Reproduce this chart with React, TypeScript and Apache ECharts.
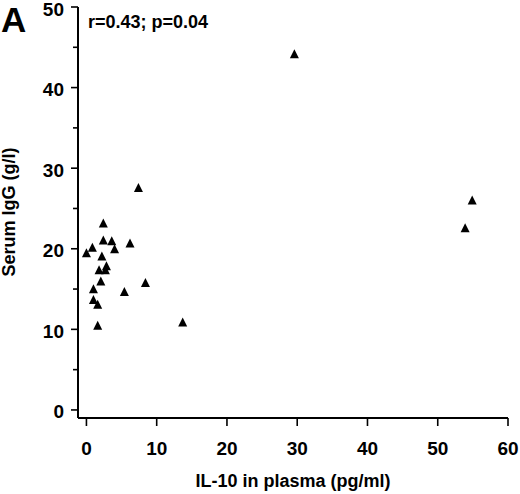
import React, { useEffect, useRef } from "react";
import * as echarts from "echarts";

const il10 = [7.4, 2.4, 2.4, 3.6, 0.85, 6.2, 4.0, 0.0, 2.2, 2.85, 1.8, 2.7, 2.05, 1.0, 5.4, 8.4, 1.0, 1.6, 1.6, 13.7, 29.6, 54.9, 53.9];
const igg = [27.6, 23.2, 21.1, 21.0, 20.2, 20.7, 20.0, 19.5, 19.1, 17.9, 17.4, 17.4, 16.0, 15.05, 14.7, 15.8, 13.7, 13.1, 10.5, 10.9, 44.2, 26.05, 22.6];
const xTicks = [0, 10, 20, 30, 40, 50, 60];
const yTicks = [0, 10, 20, 30, 40, 50];
const yMinorTicks = [5, 15, 25, 35, 45];
const panelLabel = "A";
const statText = "r=0.43; p=0.04";
const xTitle = "IL-10 in plasma (pg/ml)";
const yTitle = "Serum IgG (g/l)";

// visible axis frame
const X_MIN = -1.2;
const X_MAX = 60;
const Y_MIN = -1;
const Y_MAX = 50;
// the coordinate system spans the whole canvas so the drawn frame stays inside it
const W = 520;
const H = 494;
const PLOT_LEFT = 78;
const PLOT_RIGHT = 508;
const PLOT_TOP = 7;
const PLOT_BOTTOM = 418;
const xUnit = (PLOT_RIGHT - PLOT_LEFT) / (X_MAX - X_MIN);
const yUnit = (PLOT_BOTTOM - PLOT_TOP) / (Y_MAX - Y_MIN);
const AX_X_MIN = X_MIN - PLOT_LEFT / xUnit;
const AX_X_MAX = X_MAX + (W - PLOT_RIGHT) / xUnit;
const AX_Y_MAX = Y_MAX + PLOT_TOP / yUnit;
const AX_Y_MIN = Y_MIN - (H - PLOT_BOTTOM) / yUnit;

const FONT = "'Liberation Sans', Arial, Helvetica, sans-serif";

export default function App() {
  const ref = useRef<HTMLDivElement>(null);
  useEffect(() => {
    document.body.style.margin = "0";
    const chart = echarts.init(ref.current!, null, { renderer: "svg" });
    const points = il10.map((x, i) => [x, igg[i]]);

    const tickLabels = (params: any, api: any) => {
      const labelFont = `bold 19px ${FONT}`;
      const children: any[] = [];
      xTicks.forEach((v) => {
        const p = api.coord([v, Y_MIN]);
        children.push({
          type: "text",
          x: p[0],
          y: p[1] + 30,
          style: { text: String(v), font: labelFont, fill: "#000", align: "center", verticalAlign: "middle" },
        });
      });
      yTicks.forEach((v) => {
        const p = api.coord([X_MIN, v]);
        children.push({
          type: "text",
          x: p[0] - 14,
          y: p[1] + 2,
          style: { text: String(v), font: labelFont, fill: "#000", align: "right", verticalAlign: "middle" },
        });
      });
      return { type: "group", children };
    };

    const black = { color: "#000", opacity: 1 };

    chart.setOption({
      animation: false,
      backgroundColor: "#fff",
      grid: { left: 0, right: 0, top: 0, bottom: 0, containLabel: false },
      xAxis: { type: "value", min: AX_X_MIN, max: AX_X_MAX, show: false, splitLine: { show: false } },
      yAxis: { type: "value", min: AX_Y_MIN, max: AX_Y_MAX, show: false, splitLine: { show: false } },
      series: [
        {
          type: "line",
          data: [[X_MIN, Y_MIN], [X_MAX, Y_MIN]],
          showSymbol: false,
          symbol: "none",
          silent: true,
          clip: false,
          lineStyle: { color: "#000", width: 2, opacity: 1 },
          z: 2,
        },
        {
          type: "line",
          data: [[X_MIN, Y_MIN], [X_MIN, Y_MAX]],
          showSymbol: false,
          symbol: "none",
          silent: true,
          clip: false,
          lineStyle: { color: "#000", width: 2, opacity: 1 },
          z: 2,
        },
        {
          type: "scatter",
          data: xTicks.map((v) => [v, Y_MIN]),
          symbol: "rect",
          symbolSize: [1.6, 8],
          symbolOffset: [0, 4],
          silent: true,
          clip: false,
          itemStyle: black,
          z: 2,
        },
        {
          type: "scatter",
          data: yTicks.map((v) => [X_MIN, v]),
          symbol: "rect",
          symbolSize: [7, 1.6],
          symbolOffset: [-3.5, 0],
          silent: true,
          clip: false,
          itemStyle: black,
          z: 2,
        },
        {
          type: "scatter",
          data: yMinorTicks.map((v) => [X_MIN, v]),
          symbol: "rect",
          symbolSize: [5, 1.6],
          symbolOffset: [-2.5, 0],
          silent: true,
          clip: false,
          itemStyle: black,
          z: 2,
        },
        {
          type: "custom",
          renderItem: tickLabels,
          data: [[0, 0]],
          clip: false,
          silent: true,
          z: 2,
        },
        {
          type: "scatter",
          data: points,
          symbol: "triangle",
          symbolSize: 9,
          itemStyle: black,
          z: 3,
        },
      ],
      graphic: [
        {
          type: "text",
          x: 1,
          y: 2,
          style: { text: panelLabel, font: `bold 35px ${FONT}`, fill: "#000", textVerticalAlign: "top" },
        },
        {
          type: "text",
          x: 88,
          y: 22,
          style: { text: statText, font: `bold 18px ${FONT}`, fill: "#000", textVerticalAlign: "middle" },
        },
        {
          type: "text",
          x: 293,
          y: 481,
          style: { text: xTitle, font: `bold 18px ${FONT}`, fill: "#000", textAlign: "center", textVerticalAlign: "middle" },
        },
        {
          type: "text",
          x: 9,
          y: 212,
          rotation: Math.PI / 2,
          style: { text: yTitle, font: `bold 18px ${FONT}`, fill: "#000", textAlign: "center", textVerticalAlign: "middle" },
        },
      ],
    });
    return () => chart.dispose();
  }, []);
  return <div ref={ref} style={{ position: "fixed", left: 0, top: 0, width: 520, height: 494 }} />;
}
